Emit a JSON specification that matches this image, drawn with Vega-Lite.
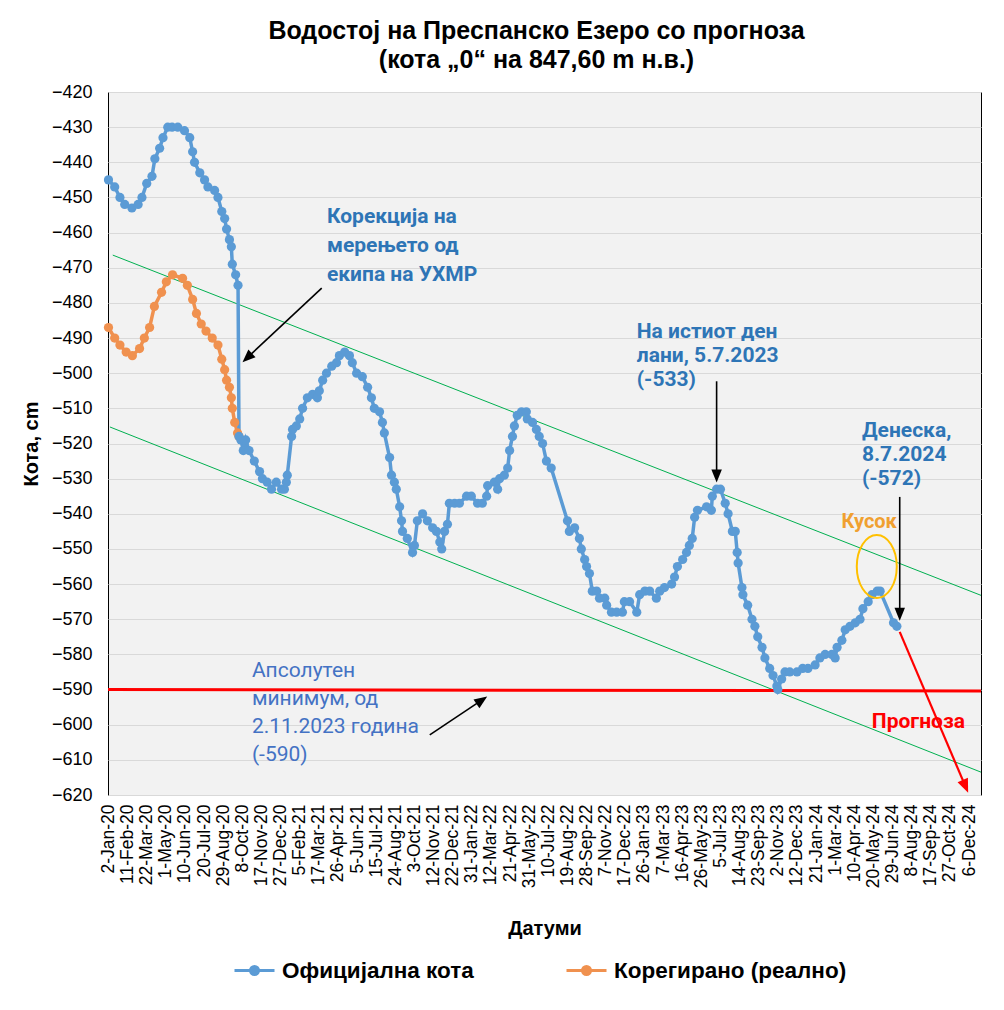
{
  "$schema": "https://vega.github.io/schema/vega-lite/v6.json",
  "width": 873,
  "height": 703,
  "autosize": {"type": "none"},
  "padding": {"left": 108, "top": 92, "right": 23, "bottom": 215},
  "background": "white",
  "title": {
    "text": ["Водостој на Преспанско Езеро со прогноза", "(кота „0“ на 847,60 m н.в.)"],
    "anchor": "middle", "dx": -8, "offset": 10,
    "font": "Liberation Sans", "fontSize": 25, "fontWeight": "bold", "color": "#000000", "lineHeight": 29
  },
  "config": {
    "view": {"stroke": "#000000", "strokeWidth": 1, "fill": "#f2f2f2"},
    "axis": {
      "labelFont": "Liberation Sans", "titleFont": "Liberation Sans",
      "labelColor": "#000000", "titleColor": "#000000",
      "domain": false, "ticks": false, "tickSize": 0,
      "gridColor": "#d9d9d9", "gridWidth": 1, "labelOverlap": false, "labelFlush": false
    }
  },
  "datasets": {
    "levels": [
      {"date": "2020-01-02", "cm": -487, "series": "Корегирано (реално)"},
      {"date": "2020-01-15", "cm": -490, "series": "Корегирано (реално)"},
      {"date": "2020-01-26", "cm": -492, "series": "Корегирано (реално)"},
      {"date": "2020-02-08", "cm": -494, "series": "Корегирано (реално)"},
      {"date": "2020-02-21", "cm": -495, "series": "Корегирано (реално)"},
      {"date": "2020-03-07", "cm": -493, "series": "Корегирано (реално)"},
      {"date": "2020-03-17", "cm": -490, "series": "Корегирано (реално)"},
      {"date": "2020-03-28", "cm": -487, "series": "Корегирано (реално)"},
      {"date": "2020-04-07", "cm": -481, "series": "Корегирано (реално)"},
      {"date": "2020-04-22", "cm": -477, "series": "Корегирано (реално)"},
      {"date": "2020-05-02", "cm": -474, "series": "Корегирано (реално)"},
      {"date": "2020-05-15", "cm": -472, "series": "Корегирано (реално)"},
      {"date": "2020-06-05", "cm": -473, "series": "Корегирано (реално)"},
      {"date": "2020-06-15", "cm": -475, "series": "Корегирано (реално)"},
      {"date": "2020-06-26", "cm": -479, "series": "Корегирано (реално)"},
      {"date": "2020-07-04", "cm": -483, "series": "Корегирано (реално)"},
      {"date": "2020-07-14", "cm": -486, "series": "Корегирано (реално)"},
      {"date": "2020-07-24", "cm": -488, "series": "Корегирано (реално)"},
      {"date": "2020-08-06", "cm": -490, "series": "Корегирано (реално)"},
      {"date": "2020-08-18", "cm": -492, "series": "Корегирано (реално)"},
      {"date": "2020-08-26", "cm": -496, "series": "Корегирано (реално)"},
      {"date": "2020-09-01", "cm": -499, "series": "Корегирано (реално)"},
      {"date": "2020-09-05", "cm": -502, "series": "Корегирано (реално)"},
      {"date": "2020-09-11", "cm": -504, "series": "Корегирано (реално)"},
      {"date": "2020-09-15", "cm": -507, "series": "Корегирано (реално)"},
      {"date": "2020-09-17", "cm": -510, "series": "Корегирано (реално)"},
      {"date": "2020-09-22", "cm": -514, "series": "Корегирано (реално)"},
      {"date": "2020-09-28", "cm": -517, "series": "Корегирано (реално)"},
      {"date": "2020-10-01", "cm": -518, "series": "Корегирано (реално)"},
      {"date": "2020-01-02", "cm": -445, "series": "Официјална кота"},
      {"date": "2020-01-15", "cm": -447, "series": "Официјална кота"},
      {"date": "2020-01-26", "cm": -450, "series": "Официјална кота"},
      {"date": "2020-02-05", "cm": -452, "series": "Официјална кота"},
      {"date": "2020-02-20", "cm": -453, "series": "Официјална кота"},
      {"date": "2020-03-04", "cm": -452, "series": "Официјална кота"},
      {"date": "2020-03-12", "cm": -450, "series": "Официјална кота"},
      {"date": "2020-03-22", "cm": -446, "series": "Официјална кота"},
      {"date": "2020-04-02", "cm": -444, "series": "Официјална кота"},
      {"date": "2020-04-08", "cm": -439, "series": "Официјална кота"},
      {"date": "2020-04-18", "cm": -436, "series": "Официјална кота"},
      {"date": "2020-04-25", "cm": -433, "series": "Официјална кота"},
      {"date": "2020-05-05", "cm": -430, "series": "Официјална кота"},
      {"date": "2020-05-14", "cm": -430, "series": "Официјална кота"},
      {"date": "2020-05-26", "cm": -430, "series": "Официјална кота"},
      {"date": "2020-06-09", "cm": -431, "series": "Официјална кота"},
      {"date": "2020-06-20", "cm": -433, "series": "Официјална кота"},
      {"date": "2020-06-26", "cm": -437, "series": "Официјална кота"},
      {"date": "2020-06-30", "cm": -440, "series": "Официјална кота"},
      {"date": "2020-07-11", "cm": -443, "series": "Официјална кота"},
      {"date": "2020-07-21", "cm": -445, "series": "Официјална кота"},
      {"date": "2020-07-28", "cm": -447, "series": "Официјална кота"},
      {"date": "2020-08-11", "cm": -448, "series": "Официјална кота"},
      {"date": "2020-08-18", "cm": -450, "series": "Официјална кота"},
      {"date": "2020-08-26", "cm": -454, "series": "Официјална кота"},
      {"date": "2020-09-01", "cm": -456, "series": "Официјална кота"},
      {"date": "2020-09-05", "cm": -459, "series": "Официјална кота"},
      {"date": "2020-09-11", "cm": -462, "series": "Официјална кота"},
      {"date": "2020-09-15", "cm": -464, "series": "Официјална кота"},
      {"date": "2020-09-17", "cm": -469, "series": "Официјална кота"},
      {"date": "2020-09-24", "cm": -472, "series": "Официјална кота"},
      {"date": "2020-09-29", "cm": -475, "series": "Официјална кота"},
      {"date": "2020-10-01", "cm": -518, "series": "Официјална кота"},
      {"date": "2020-10-05", "cm": -519, "series": "Официјална кота"},
      {"date": "2020-10-10", "cm": -522, "series": "Официјална кота"},
      {"date": "2020-10-15", "cm": -519, "series": "Официјална кота"},
      {"date": "2020-10-22", "cm": -522, "series": "Официјална кота"},
      {"date": "2020-11-02", "cm": -525, "series": "Официјална кота"},
      {"date": "2020-11-13", "cm": -528, "series": "Официјална кота"},
      {"date": "2020-11-19", "cm": -530, "series": "Официјална кота"},
      {"date": "2020-11-29", "cm": -531, "series": "Официјална кота"},
      {"date": "2020-12-08", "cm": -533, "series": "Официјална кота"},
      {"date": "2020-12-18", "cm": -531, "series": "Официјална кота"},
      {"date": "2020-12-29", "cm": -533, "series": "Официјална кота"},
      {"date": "2021-01-04", "cm": -533, "series": "Официјална кота"},
      {"date": "2021-01-08", "cm": -531, "series": "Официјална кота"},
      {"date": "2021-01-10", "cm": -529, "series": "Официјална кота"},
      {"date": "2021-01-19", "cm": -518, "series": "Официјална кота"},
      {"date": "2021-01-21", "cm": -516, "series": "Официјална кота"},
      {"date": "2021-01-29", "cm": -515, "series": "Официјална кота"},
      {"date": "2021-02-05", "cm": -513, "series": "Официјална кота"},
      {"date": "2021-02-11", "cm": -510, "series": "Официјална кота"},
      {"date": "2021-02-21", "cm": -507, "series": "Официјална кота"},
      {"date": "2021-03-04", "cm": -506, "series": "Официјална кота"},
      {"date": "2021-03-14", "cm": -507, "series": "Официјална кота"},
      {"date": "2021-03-18", "cm": -505, "series": "Официјална кота"},
      {"date": "2021-03-25", "cm": -502, "series": "Официјална кота"},
      {"date": "2021-04-02", "cm": -500, "series": "Официјална кота"},
      {"date": "2021-04-13", "cm": -498, "series": "Официјална кота"},
      {"date": "2021-04-23", "cm": -497, "series": "Официјална кота"},
      {"date": "2021-04-29", "cm": -495, "series": "Официјална кота"},
      {"date": "2021-05-10", "cm": -494, "series": "Официјална кота"},
      {"date": "2021-05-20", "cm": -495, "series": "Официјална кота"},
      {"date": "2021-05-26", "cm": -497, "series": "Официјална кота"},
      {"date": "2021-06-04", "cm": -500, "series": "Официјална кота"},
      {"date": "2021-06-16", "cm": -501, "series": "Официјална кота"},
      {"date": "2021-06-27", "cm": -504, "series": "Официјална кота"},
      {"date": "2021-07-05", "cm": -507, "series": "Официјална кота"},
      {"date": "2021-07-11", "cm": -510, "series": "Официјална кота"},
      {"date": "2021-07-22", "cm": -511, "series": "Официјална кота"},
      {"date": "2021-07-28", "cm": -514, "series": "Официјална кота"},
      {"date": "2021-08-01", "cm": -517, "series": "Официјална кота"},
      {"date": "2021-08-12", "cm": -524, "series": "Официјална кота"},
      {"date": "2021-08-16", "cm": -529, "series": "Официјална кота"},
      {"date": "2021-08-22", "cm": -531, "series": "Официјална кота"},
      {"date": "2021-08-26", "cm": -533, "series": "Официјална кота"},
      {"date": "2021-09-02", "cm": -538, "series": "Официјална кота"},
      {"date": "2021-09-06", "cm": -542, "series": "Официјална кота"},
      {"date": "2021-09-08", "cm": -545, "series": "Официјална кота"},
      {"date": "2021-09-18", "cm": -547, "series": "Официјална кота"},
      {"date": "2021-09-29", "cm": -551, "series": "Официјална кота"},
      {"date": "2021-10-03", "cm": -549, "series": "Официјална кота"},
      {"date": "2021-10-09", "cm": -542, "series": "Официјална кота"},
      {"date": "2021-10-20", "cm": -540, "series": "Официјална кота"},
      {"date": "2021-10-30", "cm": -542, "series": "Официјална кота"},
      {"date": "2021-11-10", "cm": -544, "series": "Официјална кота"},
      {"date": "2021-11-18", "cm": -545, "series": "Официјална кота"},
      {"date": "2021-11-25", "cm": -548, "series": "Официјална кота"},
      {"date": "2021-11-29", "cm": -550, "series": "Официјална кота"},
      {"date": "2021-12-05", "cm": -545, "series": "Официјална кота"},
      {"date": "2021-12-11", "cm": -543, "series": "Официјална кота"},
      {"date": "2021-12-15", "cm": -537, "series": "Официјална кота"},
      {"date": "2021-12-26", "cm": -537, "series": "Официјална кота"},
      {"date": "2022-01-05", "cm": -537, "series": "Официјална кота"},
      {"date": "2022-01-20", "cm": -535, "series": "Официјална кота"},
      {"date": "2022-01-30", "cm": -535, "series": "Официјална кота"},
      {"date": "2022-02-12", "cm": -537, "series": "Официјална кота"},
      {"date": "2022-02-22", "cm": -537, "series": "Официјална кота"},
      {"date": "2022-03-03", "cm": -535, "series": "Официјална кота"},
      {"date": "2022-03-05", "cm": -532, "series": "Официјална кота"},
      {"date": "2022-03-19", "cm": -531, "series": "Официјална кота"},
      {"date": "2022-03-26", "cm": -533, "series": "Официјална кота"},
      {"date": "2022-03-30", "cm": -530, "series": "Официјална кота"},
      {"date": "2022-04-09", "cm": -529, "series": "Официјална кота"},
      {"date": "2022-04-16", "cm": -527, "series": "Официјална кота"},
      {"date": "2022-04-20", "cm": -522, "series": "Официјална кота"},
      {"date": "2022-04-26", "cm": -518, "series": "Официјална кота"},
      {"date": "2022-04-30", "cm": -515, "series": "Официјална кота"},
      {"date": "2022-05-06", "cm": -512, "series": "Официјална кота"},
      {"date": "2022-05-15", "cm": -511, "series": "Официјална кота"},
      {"date": "2022-05-25", "cm": -511, "series": "Официјална кота"},
      {"date": "2022-05-27", "cm": -513, "series": "Официјална кота"},
      {"date": "2022-06-07", "cm": -514, "series": "Официјална кота"},
      {"date": "2022-06-15", "cm": -516, "series": "Официјална кота"},
      {"date": "2022-06-21", "cm": -518, "series": "Официјална кота"},
      {"date": "2022-06-28", "cm": -520, "series": "Официјална кота"},
      {"date": "2022-07-06", "cm": -525, "series": "Официјална кота"},
      {"date": "2022-07-16", "cm": -527, "series": "Официјална кота"},
      {"date": "2022-08-19", "cm": -542, "series": "Официјална кота"},
      {"date": "2022-08-23", "cm": -545, "series": "Официјална кота"},
      {"date": "2022-09-03", "cm": -544, "series": "Официјална кота"},
      {"date": "2022-09-13", "cm": -547, "series": "Официјална кота"},
      {"date": "2022-09-17", "cm": -550, "series": "Официјална кота"},
      {"date": "2022-09-24", "cm": -553, "series": "Официјална кота"},
      {"date": "2022-09-28", "cm": -555, "series": "Официјална кота"},
      {"date": "2022-10-04", "cm": -557, "series": "Официјална кота"},
      {"date": "2022-10-10", "cm": -562, "series": "Официјална кота"},
      {"date": "2022-10-19", "cm": -562, "series": "Официјална кота"},
      {"date": "2022-10-25", "cm": -564, "series": "Официјална кота"},
      {"date": "2022-11-05", "cm": -564, "series": "Официјална кота"},
      {"date": "2022-11-09", "cm": -566, "series": "Официјална кота"},
      {"date": "2022-11-19", "cm": -568, "series": "Официјална кота"},
      {"date": "2022-11-30", "cm": -568, "series": "Официјална кота"},
      {"date": "2022-12-12", "cm": -568, "series": "Официјална кота"},
      {"date": "2022-12-16", "cm": -565, "series": "Официјална кота"},
      {"date": "2022-12-27", "cm": -565, "series": "Официјална кота"},
      {"date": "2023-01-11", "cm": -568, "series": "Официјална кота"},
      {"date": "2023-01-17", "cm": -563, "series": "Официјална кота"},
      {"date": "2023-01-28", "cm": -562, "series": "Официјална кота"},
      {"date": "2023-02-07", "cm": -562, "series": "Официјална кота"},
      {"date": "2023-02-21", "cm": -564, "series": "Официјална кота"},
      {"date": "2023-02-28", "cm": -562, "series": "Официјална кота"},
      {"date": "2023-03-10", "cm": -561, "series": "Официјална кота"},
      {"date": "2023-03-25", "cm": -560, "series": "Официјална кота"},
      {"date": "2023-03-31", "cm": -558, "series": "Официјална кота"},
      {"date": "2023-04-06", "cm": -555, "series": "Официјална кота"},
      {"date": "2023-04-17", "cm": -553, "series": "Официјална кота"},
      {"date": "2023-04-25", "cm": -551, "series": "Официјална кота"},
      {"date": "2023-05-01", "cm": -549, "series": "Официјална кота"},
      {"date": "2023-05-07", "cm": -547, "series": "Официјална кота"},
      {"date": "2023-05-12", "cm": -541, "series": "Официјална кота"},
      {"date": "2023-05-18", "cm": -539, "series": "Официјална кота"},
      {"date": "2023-06-06", "cm": -538, "series": "Официјална кота"},
      {"date": "2023-06-16", "cm": -539, "series": "Официјална кота"},
      {"date": "2023-06-18", "cm": -535, "series": "Официјална кота"},
      {"date": "2023-06-27", "cm": -533, "series": "Официјална кота"},
      {"date": "2023-07-05", "cm": -533, "series": "Официјална кота"},
      {"date": "2023-07-15", "cm": -537, "series": "Официјална кота"},
      {"date": "2023-07-21", "cm": -540, "series": "Официјална кота"},
      {"date": "2023-07-30", "cm": -545, "series": "Официјална кота"},
      {"date": "2023-08-05", "cm": -545, "series": "Официјална кота"},
      {"date": "2023-08-09", "cm": -551, "series": "Официјална кота"},
      {"date": "2023-08-11", "cm": -554, "series": "Официјална кота"},
      {"date": "2023-08-19", "cm": -561, "series": "Официјална кота"},
      {"date": "2023-08-21", "cm": -563, "series": "Официјална кота"},
      {"date": "2023-08-31", "cm": -566, "series": "Официјална кота"},
      {"date": "2023-09-09", "cm": -570, "series": "Официјална кота"},
      {"date": "2023-09-15", "cm": -572, "series": "Официјална кота"},
      {"date": "2023-09-21", "cm": -575, "series": "Официјална кота"},
      {"date": "2023-09-30", "cm": -578, "series": "Официјална кота"},
      {"date": "2023-10-06", "cm": -581, "series": "Официјална кота"},
      {"date": "2023-10-16", "cm": -584, "series": "Официјална кота"},
      {"date": "2023-10-23", "cm": -586, "series": "Официјална кота"},
      {"date": "2023-10-31", "cm": -589, "series": "Официјална кота"},
      {"date": "2023-11-02", "cm": -590, "series": "Официјална кота"},
      {"date": "2023-11-10", "cm": -587, "series": "Официјална кота"},
      {"date": "2023-11-17", "cm": -585, "series": "Официјална кота"},
      {"date": "2023-11-27", "cm": -585, "series": "Официјална кота"},
      {"date": "2023-12-12", "cm": -585, "series": "Официјална кота"},
      {"date": "2023-12-24", "cm": -584, "series": "Официјална кота"},
      {"date": "2024-01-04", "cm": -584, "series": "Официјална кота"},
      {"date": "2024-01-19", "cm": -583, "series": "Официјална кота"},
      {"date": "2024-01-29", "cm": -581, "series": "Официјална кота"},
      {"date": "2024-02-09", "cm": -580, "series": "Официјална кота"},
      {"date": "2024-02-23", "cm": -580, "series": "Официјална кота"},
      {"date": "2024-03-01", "cm": -581, "series": "Официјална кота"},
      {"date": "2024-03-05", "cm": -578, "series": "Официјална кота"},
      {"date": "2024-03-15", "cm": -576, "series": "Официјална кота"},
      {"date": "2024-03-22", "cm": -573, "series": "Официјална кота"},
      {"date": "2024-04-01", "cm": -572, "series": "Официјална кота"},
      {"date": "2024-04-12", "cm": -571, "series": "Официјална кота"},
      {"date": "2024-04-22", "cm": -570, "series": "Официјална кота"},
      {"date": "2024-04-28", "cm": -567, "series": "Официјална кота"},
      {"date": "2024-05-09", "cm": -565, "series": "Официјална кота"},
      {"date": "2024-05-17", "cm": -563, "series": "Официјална кота"},
      {"date": "2024-05-28", "cm": -562, "series": "Официјална кота"},
      {"date": "2024-06-03", "cm": -562, "series": "Официјална кота"},
      {"date": "2024-07-01", "cm": -571, "series": "Официјална кота"},
      {"date": "2024-07-08", "cm": -572, "series": "Официјална кота"}
    ],
    "trend": [
      {"line": "upper", "date": "2020-01-11", "cm": -466.4, "date2": "2024-12-31", "cm2": -563.2},
      {"line": "lower", "date": "2020-01-05", "cm": -515.3, "date2": "2024-12-31", "cm2": -613.5}
    ],
    "minimum": [
      {"date": "2020-01-01", "cm": -590, "date2": "2024-12-31", "cm2": -590.4}
    ],
    "shortfall": [
      {"date": "2024-05-27", "cm": -555}
    ],
    "arrows": [
      {"id": "correction", "date": "2021-03-23", "cm": -475.8, "date2": "2020-10-19", "cm2": -495.5},
      {"id": "lastyear", "date": "2023-06-27", "cm": -502.3, "date2": "2023-06-27", "cm2": -529.1},
      {"id": "today", "date": "2024-07-14", "cm": -535.2, "date2": "2024-07-14", "cm2": -568.4},
      {"id": "minimum", "date": "2021-11-04", "cm": -602.9, "date2": "2022-02-20", "cm2": -593.1},
      {"id": "forecast", "date": "2024-07-14", "cm": -573.6, "date2": "2024-11-28", "cm2": -617.4}
    ],
    "notes": [
      {"id": "correction", "date": "2021-04-03", "cm": -452.4, "text": "Корекција на\nмерењето од\nекипа на УХМР"},
      {"id": "lastyear", "date": "2023-01-11", "cm": -485.1, "text": "На истиот ден\nлани, 5.7.2023\n(-533)"},
      {"id": "today", "date": "2024-04-26", "cm": -513.3, "text": "Денеска,\n8.7.2024\n(-572)"},
      {"id": "minimum", "date": "2020-10-28", "cm": -581.6, "text": "Апсолутен\nминимум, од\n2.11.2023 година\n(-590)"},
      {"id": "gap", "date": "2024-05-11", "cm": -542.3, "text": "Кусок"},
      {"id": "forecast", "date": "2024-08-22", "cm": -599.2, "text": "Прогноза"}
    ]
  },
  "encoding": {
    "x": {
      "field": "date", "type": "temporal", "title": "Датуми",
      "scale": {"type": "utc", "domain": [{"year": 2020, "month": 1, "date": 1, "utc": true}, {"year": 2024, "month": 12, "date": 31, "utc": true}]},
      "axis": {
        "grid": false, "labelAngle": -90, "labelFontSize": 17.5, "labelPadding": 9,
        "titleFontSize": 20, "titleFontWeight": "bold", "titlePadding": 31,
        "labelExpr": "utcFormat(datum.value, '%-d-%b-%y')",
        "values": [
          {"year": 2020, "month": 1, "date": 2, "utc": true},
          {"year": 2020, "month": 2, "date": 11, "utc": true},
          {"year": 2020, "month": 3, "date": 22, "utc": true},
          {"year": 2020, "month": 5, "date": 1, "utc": true},
          {"year": 2020, "month": 6, "date": 10, "utc": true},
          {"year": 2020, "month": 7, "date": 20, "utc": true},
          {"year": 2020, "month": 8, "date": 29, "utc": true},
          {"year": 2020, "month": 10, "date": 8, "utc": true},
          {"year": 2020, "month": 11, "date": 17, "utc": true},
          {"year": 2020, "month": 12, "date": 27, "utc": true},
          {"year": 2021, "month": 2, "date": 5, "utc": true},
          {"year": 2021, "month": 3, "date": 17, "utc": true},
          {"year": 2021, "month": 4, "date": 26, "utc": true},
          {"year": 2021, "month": 6, "date": 5, "utc": true},
          {"year": 2021, "month": 7, "date": 15, "utc": true},
          {"year": 2021, "month": 8, "date": 24, "utc": true},
          {"year": 2021, "month": 10, "date": 3, "utc": true},
          {"year": 2021, "month": 11, "date": 12, "utc": true},
          {"year": 2021, "month": 12, "date": 22, "utc": true},
          {"year": 2022, "month": 1, "date": 31, "utc": true},
          {"year": 2022, "month": 3, "date": 12, "utc": true},
          {"year": 2022, "month": 4, "date": 21, "utc": true},
          {"year": 2022, "month": 5, "date": 31, "utc": true},
          {"year": 2022, "month": 7, "date": 10, "utc": true},
          {"year": 2022, "month": 8, "date": 19, "utc": true},
          {"year": 2022, "month": 9, "date": 28, "utc": true},
          {"year": 2022, "month": 11, "date": 7, "utc": true},
          {"year": 2022, "month": 12, "date": 17, "utc": true},
          {"year": 2023, "month": 1, "date": 26, "utc": true},
          {"year": 2023, "month": 3, "date": 7, "utc": true},
          {"year": 2023, "month": 4, "date": 16, "utc": true},
          {"year": 2023, "month": 5, "date": 26, "utc": true},
          {"year": 2023, "month": 7, "date": 5, "utc": true},
          {"year": 2023, "month": 8, "date": 14, "utc": true},
          {"year": 2023, "month": 9, "date": 23, "utc": true},
          {"year": 2023, "month": 11, "date": 2, "utc": true},
          {"year": 2023, "month": 12, "date": 12, "utc": true},
          {"year": 2024, "month": 1, "date": 21, "utc": true},
          {"year": 2024, "month": 3, "date": 1, "utc": true},
          {"year": 2024, "month": 4, "date": 10, "utc": true},
          {"year": 2024, "month": 5, "date": 20, "utc": true},
          {"year": 2024, "month": 6, "date": 29, "utc": true},
          {"year": 2024, "month": 8, "date": 8, "utc": true},
          {"year": 2024, "month": 9, "date": 17, "utc": true},
          {"year": 2024, "month": 10, "date": 27, "utc": true},
          {"year": 2024, "month": 12, "date": 6, "utc": true}
        ]
      }
    },
    "y": {
      "field": "cm", "type": "quantitative", "title": "Кота, cm",
      "scale": {"domain": [-620, -420], "nice": false, "zero": false},
      "axis": {
        "grid": true, "labelFontSize": 18, "labelPadding": 16,
        "titleFontSize": 20, "titleFontWeight": "bold", "titlePadding": 10,
        "values": [-620, -610, -600, -590, -580, -570, -560, -550, -540, -530, -520, -510, -500, -490, -480, -470, -460, -450, -440, -430, -420]
      }
    }
  },
  "layer": [
    {
      "data": {"name": "trend"},
      "mark": {"type": "rule", "color": "#00b050", "strokeWidth": 1},
      "encoding": {"x2": {"field": "date2"}, "y2": {"field": "cm2"}}
    },
    {
      "data": {"name": "minimum"},
      "mark": {"type": "rule", "color": "#ff0000", "strokeWidth": 3},
      "encoding": {"x2": {"field": "date2"}, "y2": {"field": "cm2"}}
    },
    {
      "data": {"name": "levels"},
      "mark": {"type": "line", "strokeWidth": 3.5, "point": {"filled": true, "size": 85, "opacity": 1}},
      "encoding": {
        "color": {
          "field": "series", "type": "nominal",
          "scale": {"domain": ["Официјална кота", "Корегирано (реално)"], "range": ["#5b9bd5", "#f0914f"]},
          "legend": {
            "orient": "none", "legendX": 125, "legendY": 857, "direction": "horizontal", "title": null,
            "labelFont": "Liberation Sans", "labelFontSize": 22.5, "labelFontWeight": "bold", "labelColor": "#000000", "labelLimit": 0,
            "symbolType": "M-1,0L1,0M-0.2,0A0.2,0.2 0 1,1 0.2,0A0.2,0.2 0 1,1 -0.2,0Z",
            "symbolSize": 1600, "symbolStrokeWidth": 3, "symbolOpacity": 1,
            "columnPadding": 86, "labelOffset": 6,
            "encode": {"symbols": {"update": {"fill": {"scale": "color", "field": "value"}, "stroke": {"scale": "color", "field": "value"}}}}
          }
        }
      }
    },
    {
      "data": {"name": "shortfall"},
      "mark": {"type": "point", "shape": "M-0.635,0A0.635,1 0 1,1 0.635,0A0.635,1 0 1,1 -0.635,0Z", "size": 3969, "filled": false, "color": "#ffc000", "strokeWidth": 2, "opacity": 1}
    },
    {
      "data": {"name": "arrows"},
      "transform": [{"filter": "datum.id !== 'forecast'"}],
      "mark": {"type": "rule", "color": "#000000", "strokeWidth": 1.6},
      "encoding": {"x2": {"field": "date2"}, "y2": {"field": "cm2"}}
    },
    {
      "data": {"name": "arrows"},
      "transform": [{"filter": "datum.id === 'forecast'"}],
      "mark": {"type": "rule", "color": "#ff0000", "strokeWidth": 2.2},
      "encoding": {"x2": {"field": "date2"}, "y2": {"field": "cm2"}}
    },
    {
      "data": {"name": "arrows"},
      "transform": [{"filter": "datum.id === 'correction'"}],
      "mark": {"type": "point", "shape": "M0,-1L0.75,0.85L-0.75,0.85Z", "size": 196, "filled": true, "color": "#000000", "opacity": 1, "angle": 227},
      "encoding": {"x": {"field": "date2", "type": "temporal", "title": "Датуми"}, "y": {"field": "cm2", "type": "quantitative", "title": "Кота, cm"}}
    },
    {
      "data": {"name": "arrows"},
      "transform": [{"filter": "datum.id === 'lastyear' || datum.id === 'today'"}],
      "mark": {"type": "point", "shape": "M0,-1L0.75,0.85L-0.75,0.85Z", "size": 196, "filled": true, "color": "#000000", "opacity": 1, "angle": 180},
      "encoding": {"x": {"field": "date2", "type": "temporal", "title": "Датуми"}, "y": {"field": "cm2", "type": "quantitative", "title": "Кота, cm"}}
    },
    {
      "data": {"name": "arrows"},
      "transform": [{"filter": "datum.id === 'minimum'"}],
      "mark": {"type": "point", "shape": "M0,-1L0.75,0.85L-0.75,0.85Z", "size": 196, "filled": true, "color": "#000000", "opacity": 1, "angle": 56},
      "encoding": {"x": {"field": "date2", "type": "temporal", "title": "Датуми"}, "y": {"field": "cm2", "type": "quantitative", "title": "Кота, cm"}}
    },
    {
      "data": {"name": "arrows"},
      "transform": [{"filter": "datum.id === 'forecast'"}],
      "mark": {"type": "point", "shape": "M0,-1L0.75,0.85L-0.75,0.85Z", "size": 225, "filled": true, "color": "#ff0000", "opacity": 1, "angle": 157},
      "encoding": {"x": {"field": "date2", "type": "temporal", "title": "Датуми"}, "y": {"field": "cm2", "type": "quantitative", "title": "Кота, cm"}}
    },
    {
      "data": {"name": "notes"},
      "transform": [{"filter": "datum.id === 'correction'"}],
      "mark": {"type": "text", "align": "left", "baseline": "top", "font": "Roboto", "fontSize": 21, "fontWeight": "bold", "color": "#2e75b6", "lineBreak": "\n", "lineHeight": 29},
      "encoding": {"text": {"field": "text"}}
    },
    {
      "data": {"name": "notes"},
      "transform": [{"filter": "datum.id === 'lastyear' || datum.id === 'today'"}],
      "mark": {"type": "text", "align": "left", "baseline": "top", "font": "Roboto", "fontSize": 21, "fontWeight": "bold", "color": "#2e75b6", "lineBreak": "\n", "lineHeight": 24},
      "encoding": {"text": {"field": "text"}}
    },
    {
      "data": {"name": "notes"},
      "transform": [{"filter": "datum.id === 'minimum'"}],
      "mark": {"type": "text", "align": "left", "baseline": "top", "font": "Roboto", "fontSize": 21, "fontWeight": "normal", "color": "#4472c4", "lineBreak": "\n", "lineHeight": 28},
      "encoding": {"text": {"field": "text"}}
    },
    {
      "data": {"name": "notes"},
      "transform": [{"filter": "datum.id === 'gap'"}],
      "mark": {"type": "text", "align": "center", "baseline": "middle", "font": "Roboto", "fontSize": 20, "fontWeight": "bold", "color": "#f0a030"},
      "encoding": {"text": {"field": "text"}}
    },
    {
      "data": {"name": "notes"},
      "transform": [{"filter": "datum.id === 'forecast'"}],
      "mark": {"type": "text", "align": "center", "baseline": "middle", "font": "Roboto", "fontSize": 21, "fontWeight": "bold", "color": "#ff0000"},
      "encoding": {"text": {"field": "text"}}
    }
  ]
}
